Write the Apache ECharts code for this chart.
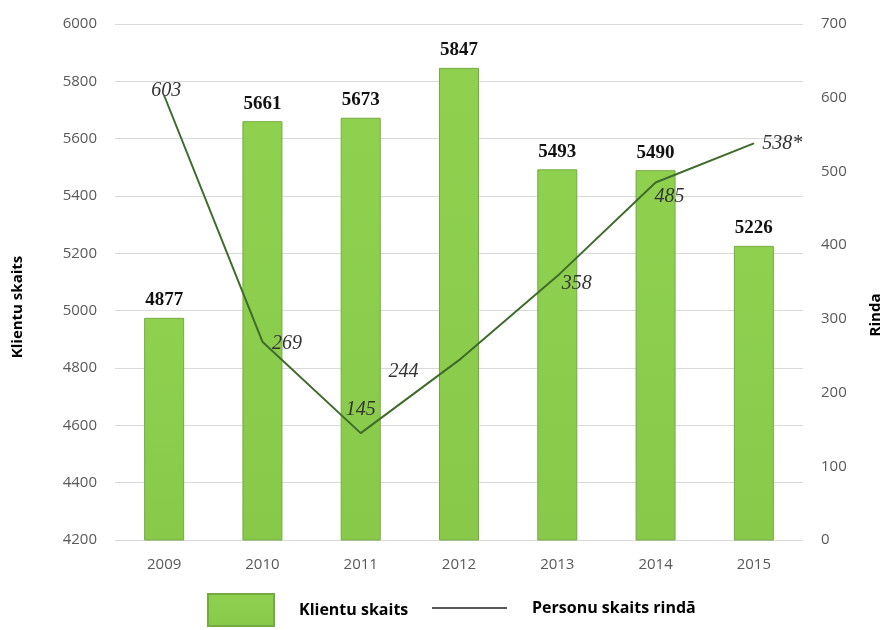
<!DOCTYPE html>
<html>
<head>
<meta charset="utf-8">
<script src="https://cdn.jsdelivr.net/npm/echarts@6/dist/echarts.min.js"></script>
<style>html,body{margin:0;padding:0;background:#fff;overflow:hidden;width:891px;height:630px}#c{width:891px;height:630px}</style>
</head>
<body>
<div id="c"></div>
<script>
var years = ['2009','2010','2011','2012','2013','2014','2015'];
// Bar heights as drawn in the reference (the 2009 bar is drawn taller than its printed label)
var clients = [4975, 5661, 5673, 5847, 5493, 5490, 5226];
var clientLabels = ['4877','5661','5673','5847','5493','5490','5226'];
var queue = [603, 269, 145, 244, 358, 485, 538];
var queueLabels = ['603','269','145','244','358','485','538*'];
var leftTicks = [4200, 6000, 200];
var rightTicks = [0, 700, 100];
var barName = 'Klientu skaits';
var lineName = 'Personu skaits rindā';

var labelCfg = [
  {position:'top', distance:-6, offset:[2,0]},
  {position:'right', distance:9, offset:[0,2]},
  {position:'top', distance:13},
  {position:'left', distance:40, offset:[0,12]},
  {position:'right', distance:0, offset:[4,8]},
  {position:'bottom', distance:4, offset:[14,0]},
  {position:'right', distance:8}
];

var lineData = queue.map(function(v,i){
  return {value:v, label: Object.assign({}, labelCfg[i])};
});

var chart = echarts.init(document.getElementById('c'));
var legendText = {fontFamily:'Open Sans', fontWeight:'bold', fontSize:16, color:'#000'};
chart.setOption({
  animation:false,
  grid:{left:115, right:76, top:24, bottom:90},
  legend:[
    {left:207, top:593, padding:0, itemWidth:66, itemHeight:32, data:[{name:barName, icon:'rect'}],
     textStyle:Object.assign({padding:[0,0,0,20]}, legendText)},
    {left:432, top:600, padding:0, itemWidth:75, itemHeight:16, data:[{name:lineName, icon:'path://M0,7.2H75V8.8H0Z', itemStyle:{color:'#222'}}],
     textStyle:Object.assign({padding:[0,0,0,20]}, legendText)}
  ],
  xAxis:{
    type:'category', data:years,
    axisLine:{show:false}, axisTick:{show:false},
    axisLabel:{color:'#595959', fontFamily:'Open Sans', fontSize:15, margin:17}
  },
  yAxis:[
    {type:'value', min:leftTicks[0], max:leftTicks[1], interval:leftTicks[2],
     name:'Klientu skaits', nameLocation:'middle', nameRotate:90, nameGap:90,
     nameTextStyle:{fontFamily:'Open Sans', fontWeight:'bold', fontSize:15, color:'#000', padding:[0,50,0,0]},
     axisLabel:{color:'#595959', fontFamily:'Open Sans', fontSize:15, margin:18, formatter:function(v){return String(v);}},
     splitLine:{lineStyle:{color:'#d9d9d9'}}, axisLine:{show:false}, axisTick:{show:false}},
    {type:'value', min:rightTicks[0], max:rightTicks[1], interval:rightTicks[2], position:'right',
     name:'Rinda', nameLocation:'middle', nameRotate:90, nameGap:65,
     nameTextStyle:{fontFamily:'Open Sans', fontWeight:'bold', fontSize:15, color:'#000', padding:[0,66,0,0]},
     axisLabel:{color:'#595959', fontFamily:'Open Sans', fontSize:15, margin:18},
     splitLine:{show:false}, axisLine:{show:false}, axisTick:{show:false}}
  ],
  series:[
    {name:barName, type:'bar', data:clients, barWidth:40, yAxisIndex:0,
     itemStyle:{color:new echarts.graphic.LinearGradient(0,0,0,1,[{offset:0,color:'#8fd14f'},{offset:1,color:'#88c94a'}]),
       borderColor:'#74ab40', borderWidth:1},
     label:{show:true, position:'top', distance:8, fontFamily:'Liberation Serif', fontWeight:'bold', fontSize:19, color:'#111',
       formatter:function(p){return clientLabels[p.dataIndex];}}},
    {name:lineName, type:'line', data:lineData, yAxisIndex:1,
     symbol:'circle', symbolSize:1, itemStyle:{color:'#3f6b2c'},
     lineStyle:{color:'#3f6b2c', width:2},
     label:{show:true, fontFamily:'Liberation Serif', fontStyle:'italic', fontSize:20, color:'#333',
       formatter:function(p){return queueLabels[p.dataIndex];}}}
  ]
});
</script>
</body>
</html>
